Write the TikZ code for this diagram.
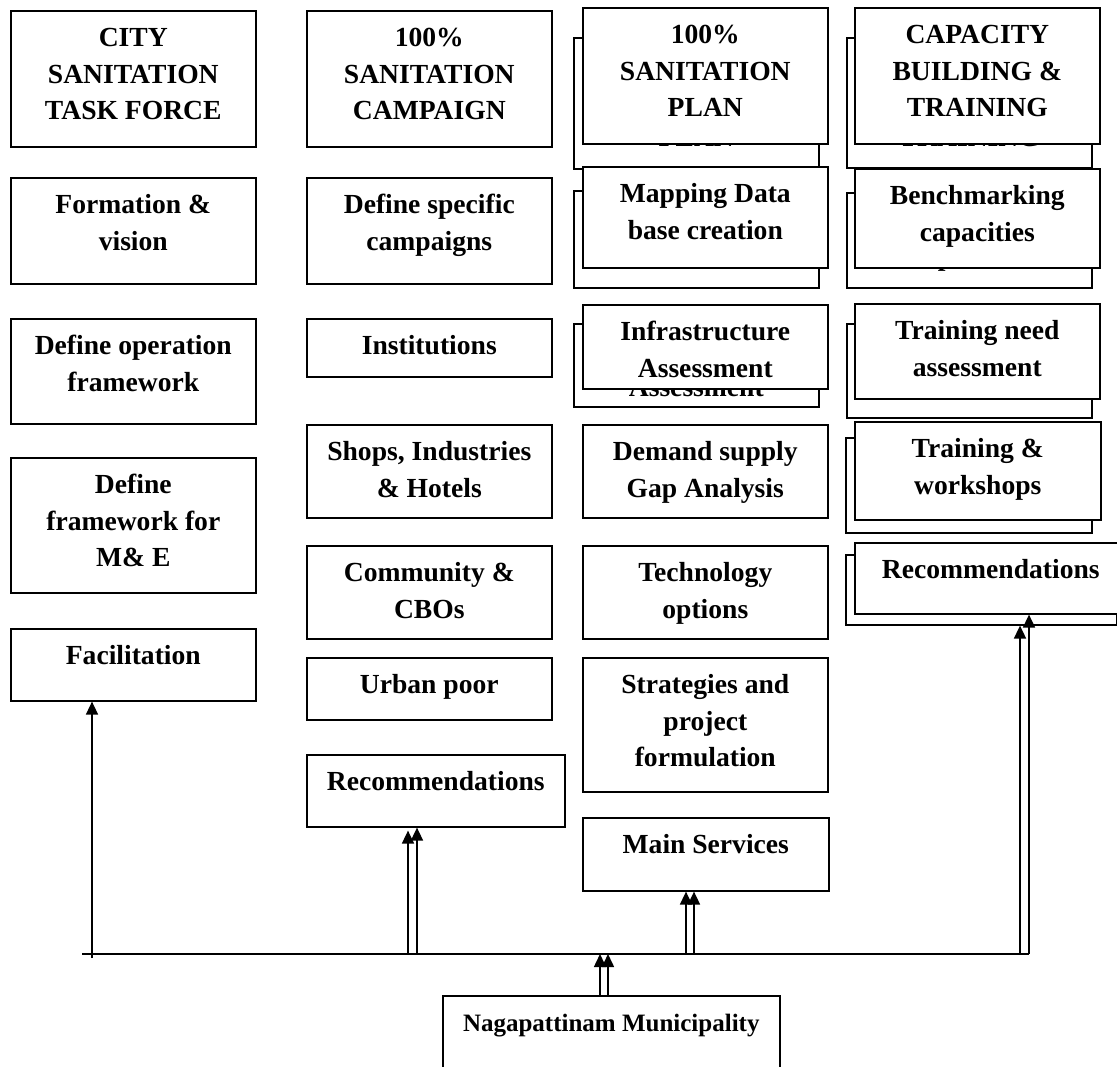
\documentclass[tikz,border=0pt]{standalone}
\usepackage{fontspec}
\setmainfont{Liberation Serif}
\usepackage{tikz}
\usetikzlibrary{arrows.meta}

\newlength\px
\setlength\px{0.5pt}
% box content: width, height (px), text
\newcommand{\cell}[3]{\parbox[t][#2\px][t]{#1\px}{\centering\rule{0pt}{18pt}#3}}

\tikzset{
    box/.style={draw, line width=0.8pt, fill=white, inner sep=0pt, anchor=north west,
        font=\fontsize{13.8pt}{18.25pt}\selectfont\bfseries},
    link/.style={line width=0.8pt, -{Triangle[length=6.5pt,width=6pt]}}
}

\begin{document}
\begin{tikzpicture}[x=0.5pt,y=-0.5pt]
    \useasboundingbox (0,0) rectangle (1117,1066);

    % city sanitation task force
    \node[box] (cstf)  at (10,10)  {\cell{245}{136}{CITY\\SANITATION\\TASK FORCE}};
    \node[box] (form)  at (10,177) {\cell{245}{106}{Formation \&\\vision}};
    \node[box] (oper)  at (10,318) {\cell{245}{105}{Define operation\\framework}};
    \node[box] (mne)   at (10,457) {\cell{245}{135}{Define\\framework for\\M\& E}};
    \node[box] (facil) at (10,628) {\cell{245}{72}{Facilitation}};

    % sanitation campaign
    \node[box] (camp)  at (306,10)  {\cell{245}{136}{100\%\\SANITATION\\CAMPAIGN}};
    \node[box] (spec)  at (306,177) {\cell{245}{106}{Define specific\\campaigns}};
    \node[box] (inst)  at (306,318) {\cell{245}{58}{Institutions}};
    \node[box] (shops) at (306,424) {\cell{245}{93}{Shops, Industries\\\& Hotels}};
    \node[box] (comm)  at (306,545) {\cell{245}{93}{Community \&\\CBOs}};
    \node[box] (poor)  at (306,657) {\cell{245}{62}{Urban poor}};
    \node[box] (recB)  at (306,754) {\cell{258}{72}{Recommendations}};

    % sanitation plan (shadow boxes first)
    \node[box] (planB)  at (573,37)  {\cell{245}{131}{100\%\\SANITATION\\PLAN}};
    \node[box] (planF)  at (582,7)   {\cell{245}{136}{100\%\\SANITATION\\PLAN}};
    \node[box] (mapB)   at (573,190) {\cell{245}{97}{Mapping Data\\base creation}};
    \node[box] (mapF)   at (582,166) {\cell{245}{101}{Mapping Data\\base creation}};
    \node[box] (infraB) at (573,323) {\cell{245}{83}{Infrastructure\\Assessment}};
    \node[box] (infraF) at (582,304) {\cell{245}{84}{Infrastructure\\Assessment}};
    \node[box] (demand) at (582,424) {\cell{245}{93}{Demand supply\\Gap Analysis}};
    \node[box] (tech)   at (582,545) {\cell{245}{93}{Technology\\options}};
    \node[box] (strat)  at (582,657) {\cell{245}{134}{Strategies and\\project\\formulation}};
    \node[box] (mains)  at (582,817) {\cell{246}{73}{Main Services}};

    % capacity building (shadow boxes first)
    \node[box] (capB)   at (846,37)  {\cell{245}{130}{CAPACITY\\BUILDING \&\\TRAINING}};
    \node[box] (capF)   at (854,7)   {\cell{245}{136}{CAPACITY\\BUILDING \&\\TRAINING}};
    \node[box] (benchB) at (846,192) {\cell{245}{95}{Benchmarking\\capacities}};
    \node[box] (benchF) at (854,168) {\cell{245}{99}{Benchmarking\\capacities}};
    \node[box] (tnaB)   at (846,323) {\cell{245}{94}{Training need\\assessment}};
    \node[box] (tnaF)   at (854,303) {\cell{245}{95}{Training need\\assessment}};
    \node[box] (trainB) at (845,437) {\cell{246}{95}{Training \&\\workshops}};
    \node[box] (trainF) at (854,421) {\cell{246}{98}{Training \&\\workshops}};
    \node[box] (recDB)  at (845,554) {\cell{271}{70}{Recommendations}};
    \node[box] (recDF)  at (854,542) {\cell{272}{71}{Recommendations}};

    % municipality
    \node[box] (nag) at (442,995) {\cell{337}{90}{\fontsize{12.5pt}{16pt}\selectfont Nagapattinam Municipality}};

    % bus line and arrows
    \coordinate (busL) at (82,954);
    \coordinate (busR) at (1029,954);
    \draw[line width=0.8pt] (busL) -- (busR);
    \coordinate (fa) at (92,958);
    \coordinate (ra) at (408,954);
    \coordinate (rb) at (417,954);
    \coordinate (ma) at (686,954);
    \coordinate (mb) at (694,954);
    \coordinate (da) at (1020,954);
    \coordinate (db) at (1029,954);
    \coordinate (na) at (600,954);
    \coordinate (nb) at (608,954);
    \draw[link] (fa) -- (fa |- facil.south);
    \draw[link] (ra) -- ([yshift=-1.5pt]ra |- recB.south);
    \draw[link] (rb) -- (rb |- recB.south);
    \draw[link] (ma) -- (ma |- mains.south);
    \draw[link] (mb) -- (mb |- mains.south);
    \draw[link] (da) -- (da |- recDB.south);
    \draw[link] (db) -- (db |- recDF.south);
    \draw[link] (na |- nag.north) -- (na);
    \draw[link] (nb |- nag.north) -- (nb);
\end{tikzpicture}
\end{document}
